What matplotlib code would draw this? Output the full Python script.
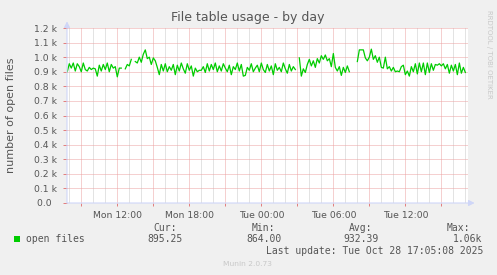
import numpy as np
import matplotlib
matplotlib.use("Agg")
import matplotlib.pyplot as plt
from matplotlib.patches import Rectangle

# munin "File table usage - by day", 5 min samples shown every 10 min
start_hour = 7.833          # Mon 07:50, hours since Mon 00:00
step_hours = 10 / 60.0
open_files = [
    900, 955, 925, 960, 905, 955, 935, 900, 960, 915,
    905, 930, 915, 925, 920, 870, 945, 905, 950, 915,
    960, 900, 950, 925, 935, 865, 925, 925,
    None,
    920, 950, 940, 985,
    None,
    970, 960, 1000, 965, 1020, 1050, 990, 1000, 950, 995, 975,
    930,
    880, 950, 905, 955, 900, 935, 910, 950, 880, 945,
    905, 960, 920, 890, 955, 910, 940, 870, 925, 900,
    910, 910, 935, 895, 955, 905, 950, 915, 960, 900,
    940, 905, 955, 925, 900, 945, 880, 935, 915, 960,
    905, 950, 870, 875, 930, 910, 955, 900, 925, 945,
    900, 960, 915, 895, 950, 905, 940, 880, 955, 910,
    930, 900, 960, 920, 890, 950, 905, 935, 915,
    None,
    995, 870, 920, 895, 950, 985, 940, 975, 930, 990,
    960, 1010, 985, 1015, 975, 990, 935, 1025, 930, 905,
    935, 875, 930, 895, 940, 900,
    None, None, None,
    970, 1050, 1050, 1050, 995,
    975, 1000, 1055, 985, 1010, 965, 1000, 930, 925, 1000,
    920, 935, 905, 930, 900, 905, 900, 935, 945, 880,
    905, 870, 935, 900, 955, 885, 960, 900, 960, 880,
    960, 895, 955, 910, 950, 945, 955, 940, 955, 920,
    950, 890, 945, 905, 950, 880, 960, 890, 930, 895,
]

y_ticks = [0, 100, 200, 300, 400, 500, 600, 700, 800, 900, 1000, 1100, 1200]
y_labels = ["0.0  ", "0.1 k", "0.2 k", "0.3 k", "0.4 k", "0.5 k", "0.6 k",
            "0.7 k", "0.8 k", "0.9 k", "1.0 k", "1.1 k", "1.2 k"]
x_label_hours = [12, 18, 24, 30, 36]
x_labels = ["Mon 12:00", "Mon 18:00", "Tue 00:00", "Tue 06:00", "Tue 12:00"]

stat_names = ["Cur:", "Min:", "Avg:", "Max:"]
stat_values = ["895.25", "864.00", "932.39", "1.06k"]

W, H = 497, 275
BG = "#F0F0F0"
FONT = "#555555"
AXIS = "#CFD6F8"
MGRID = "#EDA2A2"
GRID = "#C8C8C8"
GREEN = "#00CC00"


def px(x, y):
    return x / W, 1 - y / H


values = np.array([np.nan if v is None else v for v in open_files], dtype=float)
hours = start_hour + step_hours * np.arange(len(values))

fig = plt.figure(figsize=(W / 100, H / 100), dpi=100, facecolor=BG)
ax = fig.add_axes([67 / W, (H - 203) / H, 401 / W, 175 / H])
ax.set_facecolor("white")

x0, x1 = 7.81, 41.22
ax.set_xlim(x0, x1)
ax.set_ylim(0, 1200)

# grid, 1px dots
dots = dict(lw=0.72, ls=(0, (1, 1)), zorder=1)
for h in np.arange(8, 42, 1):
    if h % 3 != 0:
        ax.axvline(h, color=GRID, **dots)
for h in np.arange(9, 42, 3):
    ax.axvline(h, color=MGRID, **dots)
for v in y_ticks[1:]:
    ax.axhline(v, color=MGRID, **dots)

ax.plot(hours, values, color=GREEN, lw=0.9, zorder=3)

for s in ax.spines.values():
    s.set_visible(False)

ax.set_yticks(y_ticks)
ax.set_yticklabels(y_labels)
ax.tick_params(axis="y", length=3, width=0.7, color="#E27C7C", pad=4,
               labelsize=6.7, labelcolor=FONT)
ax.set_xticks(np.arange(9, 42, 3))
ax.set_xticklabels([x_labels[x_label_hours.index(h)] if h in x_label_hours else ""
                    for h in np.arange(9, 42, 3)])
ax.tick_params(axis="x", length=2.5, width=0.7, color="#E27C7C", pad=3,
               labelsize=6.7, labelcolor=FONT)

# axes with arrows
ax.annotate("", xy=(x0, 1245), xytext=(x0, 0), annotation_clip=False,
            arrowprops=dict(arrowstyle="-|>,head_width=0.18,head_length=0.35",
                            color=AXIS, lw=0.8, shrinkA=0, shrinkB=0))
ax.annotate("", xy=(x1 + 0.55, 0), xytext=(x0, 0), annotation_clip=False,
            arrowprops=dict(arrowstyle="-|>,head_width=0.18,head_length=0.35",
                            color=AXIS, lw=0.8, shrinkA=0, shrinkB=0))

# texts
fig.text(*px(248, 18), "File table usage - by day", ha="center", va="center",
         fontsize=9, color=FONT)
fig.text(*px(11, 115), "number of open files", ha="center", va="center",
         rotation=90, fontsize=8, color=FONT)
fig.text(*px(489, 54), "RRDTOOL / TOBI OETIKER", ha="center", va="center",
         rotation=270, fontsize=5, color="#C8C8C8")

fig.patches.append(Rectangle(px(14, 242), 6 / W, 6 / H, transform=fig.transFigure,
                             facecolor=GREEN, edgecolor="none"))
mono = dict(family="DejaVu Sans Mono", fontsize=7, color=FONT, va="center")
fig.text(*px(26, 239.5), "open files", ha="left", **mono)
head_x = [165, 263.5, 360.5, 458.5]
val_x = [165, 264, 360.5, 468]
for name, val, hx, vx in zip(stat_names, stat_values, head_x, val_x):
    fig.text(*px(hx, 228), name, ha="center", **mono)
    fig.text(*px(vx, 239.5), val, ha="center", **mono)
fig.text(*px(483, 251), "Last update: Tue Oct 28 17:05:08 2025", ha="right", **mono)
fig.text(*px(247.5, 264), "Munin 2.0.73", ha="center", va="center",
         fontsize=5.4, color="#C8C8C8")

fig.savefig("out.png", dpi=100, facecolor=BG)
